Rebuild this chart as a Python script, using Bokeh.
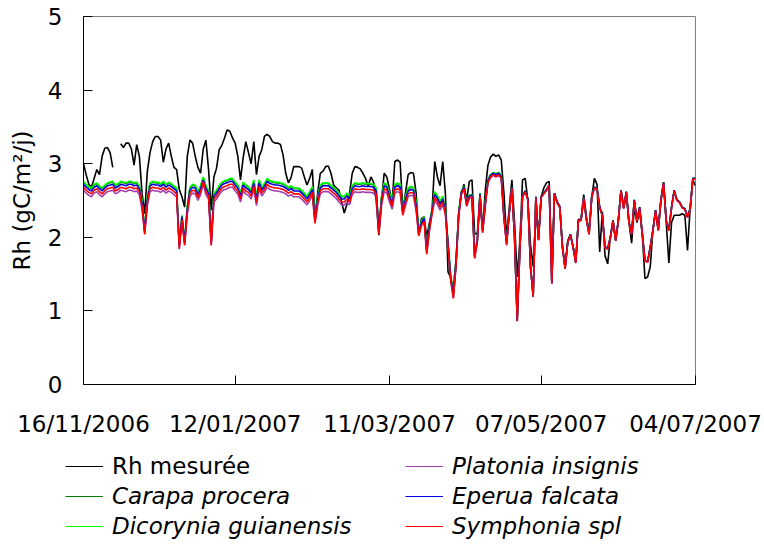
import calendar
import datetime as dt

from bokeh.plotting import figure
from bokeh.models import Range1d, FixedTicker, DatetimeTickFormatter, Legend, LegendItem
from bokeh.embed import file_html
from bokeh.resources import INLINE

NaN = float("nan")

# ---------------- data (daily values, 16/11/2006 -> 04/07/2007) ----------------
start_date = dt.datetime(2006, 11, 16)
n_days = 231
dates = [start_date + dt.timedelta(days=i) for i in range(n_days)]

tick_labels = ["16/11/2006", "12/01/2007", "11/03/2007", "07/05/2007", "04/07/2007"]
y_ticks = [0, 1, 2, 3, 4, 5]

rh_mesuree = [
    3.00, 2.85, 2.72, 2.68, 2.80, 2.92, 2.85, 3.10, 3.21, 3.22,
    3.15, 2.95, NaN, NaN, 3.27, 3.22, 3.28, 3.28, 3.20, 2.98,
    3.26, 3.10, 2.60, 2.32, 2.90, 3.15, 3.30, 3.37, 3.37, 3.32,
    3.02, 3.20, 3.28, 3.10, 2.95, 2.92, 2.65, 2.55, 2.41, 3.10,
    3.32, 3.28, 3.10, 2.95, 2.87, 3.20, 3.32, 2.92, 2.37, 2.82,
    2.94, 3.19, 3.25, 3.35, 3.46, 3.44, 3.35, 3.28, 3.10, 2.78,
    3.08, 3.30, 3.15, 3.00, 3.30, 2.85, 3.10, 3.19, 3.37, 3.40,
    3.37, 3.30, 3.28, 3.28, 3.26, 3.12, 2.87, 2.74, 2.81, 2.96,
    2.96, 2.96, 2.94, 2.82, 2.71, 2.80, 2.92, 2.26, 2.60, 2.87,
    2.90, 2.96, 2.97, 2.87, 2.71, 2.67, 2.64, 2.48, 2.33, 2.45,
    2.60, 2.87, 2.96, 2.95, 2.93, 2.87, 2.80, 2.69, 2.82, 2.75,
    2.50, 2.03, 2.50, 2.87, 2.82, 2.65, 2.46, 3.03, 3.05, 3.02,
    2.37, 2.60, 2.85, 2.88, 2.87, 2.60, 2.03, 2.25, 2.28, 2.00,
    2.20, 2.37, 3.03, 2.82, 2.70, 3.03, 2.60, 1.53, 1.45, 1.30,
    1.70, 2.30, 2.60, 2.72, 2.50, 2.76, 2.78, 2.05, 2.05, 2.48,
    2.10, 2.64, 2.98, 3.09, 3.13, 3.10, 3.12, 3.05, 2.60, 2.00,
    2.40, 2.78, 2.20, 1.46, 1.95, 2.78, 2.80, 2.50, 1.90, 1.60,
    2.33, 2.00, 2.55, 2.67, 2.74, 2.76, 1.60, 2.58, 2.48, 2.40,
    1.87, 1.62, 1.93, 2.03, 1.87, 1.68, 2.23, 2.25, 2.58, 2.28,
    2.07, 2.55, 2.80, 2.72, 1.80, 2.35, 1.75, 1.64, 2.00, 2.23,
    1.96, 2.23, 2.64, 2.40, 2.60, 2.20, 1.92, 2.40, 2.20, 2.35,
    2.05, 1.44, 1.46, 1.60, 2.10, 2.35, 2.10, 2.50, 2.72, 2.20,
    1.65, 2.20, 2.30, 2.30, 2.30, 2.32, 2.30, 1.82, 2.40, 2.78,
    2.70,
]

carapa_procera = [
    2.75, 2.71, 2.68, 2.66, 2.71, 2.73, 2.69, 2.66, 2.70, 2.73,
    2.74, 2.75, 2.70, 2.72, 2.75, 2.74, 2.73, 2.75, 2.75, 2.73,
    2.74, 2.69, 2.49, 2.09, 2.54, 2.73, 2.75, 2.74, 2.74, 2.72,
    2.75, 2.71, 2.74, 2.72, 2.69, 2.66, 1.89, 2.29, 1.94, 2.41,
    2.67, 2.71, 2.70, 2.61, 2.69, 2.81, 2.69, 2.63, 1.94, 2.59,
    2.63, 2.69, 2.74, 2.76, 2.77, 2.79, 2.79, 2.74, 2.70, 2.59,
    2.74, 2.70, 2.68, 2.63, 2.77, 2.54, 2.77, 2.67, 2.72, 2.79,
    2.76, 2.75, 2.74, 2.74, 2.73, 2.72, 2.70, 2.67, 2.69, 2.66,
    2.66, 2.66, 2.63, 2.59, 2.55, 2.61, 2.68, 2.24, 2.54, 2.70,
    2.73, 2.73, 2.73, 2.70, 2.67, 2.64, 2.59, 2.55, 2.55, 2.59,
    2.55, 2.69, 2.73, 2.72, 2.72, 2.73, 2.72, 2.72, 2.72, 2.71,
    2.66, 2.09, 2.54, 2.73, 2.71, 2.59, 2.49, 2.71, 2.73, 2.71,
    2.35, 2.54, 2.66, 2.68, 2.67, 2.47, 2.07, 2.21, 2.27, 1.82,
    2.14, 2.37, 2.61, 2.56, 2.48, 2.55, 2.37, 1.92, 1.46, 1.22,
    1.65, 2.33, 2.62, 2.69, 2.46, 2.57, 2.58, 1.75, 1.97, 2.60,
    2.10, 2.47, 2.78, 2.85, 2.88, 2.86, 2.88, 2.84, 2.30, 1.93,
    2.33, 2.68, 2.00, 0.87, 1.85, 2.56, 2.63, 2.52, 1.60, 1.20,
    2.55, 1.97, 2.55, 2.60, 2.65, 2.71, 1.38, 2.60, 2.48, 2.42,
    1.87, 1.58, 1.95, 2.04, 1.87, 1.66, 2.24, 2.24, 2.54, 2.25,
    2.05, 2.55, 2.68, 2.66, 2.41, 2.30, 1.87, 1.85, 2.00, 2.23,
    1.96, 2.23, 2.64, 2.40, 2.62, 2.21, 2.05, 2.51, 2.23, 2.41,
    2.05, 1.69, 1.67, 1.87, 2.10, 2.37, 2.10, 2.51, 2.75, 2.23,
    2.10, 2.41, 2.64, 2.51, 2.48, 2.41, 2.39, 2.28, 2.39, 2.80,
    2.80,
]

dicorynia_guianensis = [
    2.76, 2.72, 2.69, 2.67, 2.72, 2.74, 2.70, 2.67, 2.71, 2.74,
    2.75, 2.76, 2.71, 2.73, 2.76, 2.75, 2.74, 2.76, 2.76, 2.74,
    2.75, 2.70, 2.50, 2.10, 2.55, 2.74, 2.76, 2.75, 2.75, 2.73,
    2.76, 2.72, 2.75, 2.73, 2.70, 2.67, 1.90, 2.30, 1.95, 2.42,
    2.68, 2.72, 2.71, 2.62, 2.70, 2.82, 2.70, 2.64, 1.95, 2.60,
    2.64, 2.70, 2.75, 2.77, 2.78, 2.80, 2.80, 2.75, 2.71, 2.60,
    2.75, 2.71, 2.69, 2.64, 2.78, 2.55, 2.78, 2.68, 2.73, 2.80,
    2.77, 2.76, 2.75, 2.75, 2.74, 2.73, 2.71, 2.68, 2.70, 2.67,
    2.67, 2.67, 2.64, 2.60, 2.56, 2.62, 2.69, 2.25, 2.55, 2.71,
    2.74, 2.74, 2.74, 2.71, 2.68, 2.65, 2.60, 2.56, 2.56, 2.60,
    2.56, 2.70, 2.74, 2.73, 2.73, 2.74, 2.73, 2.73, 2.73, 2.72,
    2.67, 2.10, 2.55, 2.74, 2.72, 2.60, 2.50, 2.72, 2.74, 2.72,
    2.36, 2.55, 2.67, 2.69, 2.68, 2.48, 2.08, 2.22, 2.28, 1.83,
    2.15, 2.38, 2.62, 2.57, 2.49, 2.56, 2.38, 1.93, 1.47, 1.23,
    1.65, 2.33, 2.62, 2.69, 2.46, 2.57, 2.58, 1.75, 1.97, 2.60,
    2.10, 2.47, 2.78, 2.85, 2.88, 2.86, 2.88, 2.84, 2.30, 1.93,
    2.33, 2.68, 2.00, 0.87, 1.85, 2.56, 2.63, 2.52, 1.60, 1.20,
    2.55, 1.97, 2.55, 2.60, 2.65, 2.71, 1.38, 2.60, 2.48, 2.42,
    1.87, 1.58, 1.95, 2.04, 1.87, 1.66, 2.24, 2.24, 2.54, 2.25,
    2.05, 2.55, 2.68, 2.66, 2.41, 2.30, 1.87, 1.85, 2.00, 2.23,
    1.96, 2.23, 2.64, 2.40, 2.62, 2.21, 2.05, 2.51, 2.23, 2.41,
    2.05, 1.69, 1.67, 1.87, 2.10, 2.37, 2.10, 2.51, 2.75, 2.23,
    2.10, 2.41, 2.64, 2.51, 2.48, 2.41, 2.39, 2.28, 2.39, 2.80,
    2.80,
]

platonia_insignis = [
    2.64, 2.60, 2.57, 2.55, 2.60, 2.62, 2.58, 2.55, 2.59, 2.62,
    2.63, 2.64, 2.59, 2.61, 2.64, 2.63, 2.62, 2.64, 2.64, 2.62,
    2.63, 2.58, 2.38, 2.05, 2.43, 2.62, 2.64, 2.63, 2.63, 2.61,
    2.64, 2.60, 2.63, 2.61, 2.58, 2.55, 1.85, 2.25, 1.90, 2.30,
    2.56, 2.60, 2.59, 2.50, 2.58, 2.72, 2.58, 2.52, 1.90, 2.48,
    2.52, 2.58, 2.63, 2.65, 2.66, 2.68, 2.68, 2.63, 2.59, 2.48,
    2.63, 2.59, 2.57, 2.52, 2.66, 2.43, 2.66, 2.56, 2.61, 2.68,
    2.65, 2.64, 2.63, 2.63, 2.62, 2.61, 2.59, 2.56, 2.58, 2.55,
    2.55, 2.55, 2.52, 2.48, 2.44, 2.50, 2.57, 2.20, 2.43, 2.59,
    2.62, 2.62, 2.62, 2.59, 2.56, 2.53, 2.48, 2.44, 2.44, 2.48,
    2.44, 2.58, 2.62, 2.61, 2.61, 2.62, 2.61, 2.61, 2.61, 2.60,
    2.55, 2.05, 2.43, 2.62, 2.60, 2.48, 2.38, 2.60, 2.62, 2.60,
    2.31, 2.43, 2.55, 2.57, 2.56, 2.36, 2.03, 2.17, 2.23, 1.78,
    2.10, 2.33, 2.50, 2.45, 2.37, 2.44, 2.33, 1.88, 1.42, 1.18,
    1.61, 2.29, 2.58, 2.65, 2.42, 2.53, 2.54, 1.71, 1.93, 2.56,
    2.06, 2.43, 2.74, 2.81, 2.84, 2.82, 2.84, 2.80, 2.26, 1.89,
    2.32, 2.67, 1.99, 0.86, 1.84, 2.55, 2.62, 2.51, 1.59, 1.19,
    2.54, 1.96, 2.54, 2.59, 2.64, 2.70, 1.37, 2.59, 2.47, 2.41,
    1.86, 1.57, 1.94, 2.03, 1.86, 1.65, 2.23, 2.23, 2.53, 2.24,
    2.04, 2.54, 2.67, 2.65, 2.40, 2.29, 1.86, 1.84, 1.99, 2.22,
    1.95, 2.22, 2.63, 2.39, 2.61, 2.20, 2.04, 2.50, 2.22, 2.40,
    2.04, 1.68, 1.66, 1.86, 2.09, 2.36, 2.09, 2.50, 2.74, 2.22,
    2.09, 2.40, 2.63, 2.50, 2.47, 2.40, 2.38, 2.27, 2.38, 2.79,
    2.79,
]

eperua_falcata = [
    2.72, 2.68, 2.65, 2.63, 2.68, 2.70, 2.66, 2.63, 2.67, 2.70,
    2.71, 2.72, 2.67, 2.69, 2.72, 2.71, 2.70, 2.72, 2.72, 2.70,
    2.71, 2.66, 2.46, 2.08, 2.51, 2.70, 2.72, 2.71, 2.71, 2.69,
    2.72, 2.68, 2.71, 2.69, 2.66, 2.63, 1.88, 2.28, 1.93, 2.38,
    2.64, 2.68, 2.67, 2.58, 2.66, 2.78, 2.66, 2.60, 1.93, 2.56,
    2.60, 2.66, 2.71, 2.73, 2.74, 2.76, 2.76, 2.71, 2.67, 2.56,
    2.71, 2.67, 2.65, 2.60, 2.74, 2.51, 2.74, 2.64, 2.69, 2.76,
    2.73, 2.72, 2.71, 2.71, 2.70, 2.69, 2.67, 2.64, 2.66, 2.63,
    2.63, 2.63, 2.60, 2.56, 2.52, 2.58, 2.65, 2.23, 2.51, 2.67,
    2.70, 2.70, 2.70, 2.67, 2.64, 2.61, 2.56, 2.52, 2.52, 2.56,
    2.52, 2.66, 2.70, 2.69, 2.69, 2.70, 2.69, 2.69, 2.69, 2.68,
    2.63, 2.08, 2.51, 2.70, 2.68, 2.56, 2.46, 2.68, 2.70, 2.68,
    2.34, 2.51, 2.63, 2.65, 2.64, 2.44, 2.06, 2.20, 2.26, 1.81,
    2.13, 2.36, 2.58, 2.53, 2.45, 2.52, 2.36, 1.91, 1.45, 1.21,
    1.64, 2.32, 2.61, 2.68, 2.45, 2.56, 2.57, 1.74, 1.96, 2.59,
    2.09, 2.46, 2.77, 2.84, 2.87, 2.85, 2.87, 2.83, 2.29, 1.92,
    2.33, 2.68, 2.00, 0.87, 1.85, 2.56, 2.63, 2.52, 1.60, 1.20,
    2.55, 1.97, 2.55, 2.60, 2.65, 2.71, 1.38, 2.60, 2.48, 2.42,
    1.87, 1.58, 1.95, 2.04, 1.87, 1.66, 2.24, 2.24, 2.54, 2.25,
    2.05, 2.55, 2.68, 2.66, 2.41, 2.30, 1.87, 1.85, 2.00, 2.23,
    1.96, 2.23, 2.64, 2.40, 2.62, 2.21, 2.05, 2.51, 2.23, 2.41,
    2.05, 1.69, 1.67, 1.87, 2.10, 2.37, 2.10, 2.51, 2.75, 2.23,
    2.10, 2.41, 2.64, 2.51, 2.48, 2.41, 2.39, 2.28, 2.39, 2.80,
    2.80,
]

symphonia_spl = [
    2.68, 2.64, 2.61, 2.59, 2.64, 2.66, 2.62, 2.59, 2.63, 2.66,
    2.67, 2.68, 2.63, 2.65, 2.68, 2.67, 2.66, 2.68, 2.68, 2.66,
    2.67, 2.62, 2.42, 2.04, 2.47, 2.66, 2.68, 2.67, 2.67, 2.65,
    2.68, 2.64, 2.67, 2.65, 2.62, 2.59, 1.84, 2.24, 1.89, 2.34,
    2.60, 2.64, 2.63, 2.54, 2.62, 2.76, 2.62, 2.56, 1.89, 2.52,
    2.56, 2.62, 2.67, 2.69, 2.70, 2.72, 2.72, 2.67, 2.63, 2.52,
    2.67, 2.63, 2.61, 2.56, 2.70, 2.47, 2.70, 2.60, 2.65, 2.72,
    2.69, 2.68, 2.67, 2.67, 2.66, 2.65, 2.63, 2.60, 2.62, 2.59,
    2.59, 2.59, 2.56, 2.52, 2.48, 2.54, 2.61, 2.19, 2.47, 2.63,
    2.66, 2.66, 2.66, 2.63, 2.60, 2.57, 2.52, 2.48, 2.48, 2.52,
    2.48, 2.62, 2.66, 2.65, 2.65, 2.66, 2.65, 2.65, 2.65, 2.64,
    2.59, 2.04, 2.47, 2.66, 2.64, 2.52, 2.42, 2.64, 2.66, 2.64,
    2.30, 2.47, 2.59, 2.61, 2.60, 2.40, 2.02, 2.16, 2.22, 1.77,
    2.09, 2.32, 2.54, 2.49, 2.41, 2.48, 2.32, 1.87, 1.41, 1.17,
    1.62, 2.30, 2.59, 2.66, 2.43, 2.54, 2.55, 1.72, 1.94, 2.57,
    2.07, 2.44, 2.75, 2.82, 2.85, 2.83, 2.85, 2.81, 2.27, 1.90,
    2.32, 2.67, 1.99, 0.86, 1.84, 2.55, 2.62, 2.51, 1.59, 1.19,
    2.54, 1.96, 2.54, 2.59, 2.64, 2.70, 1.37, 2.59, 2.47, 2.41,
    1.86, 1.57, 1.94, 2.03, 1.86, 1.65, 2.23, 2.23, 2.53, 2.24,
    2.04, 2.54, 2.67, 2.65, 2.40, 2.29, 1.86, 1.84, 1.99, 2.22,
    1.95, 2.22, 2.63, 2.39, 2.61, 2.20, 2.04, 2.50, 2.22, 2.40,
    2.04, 1.68, 1.66, 1.86, 2.09, 2.36, 2.09, 2.50, 2.74, 2.22,
    2.09, 2.40, 2.63, 2.50, 2.47, 2.40, 2.38, 2.27, 2.38, 2.79,
    2.79,
]

series = [
    ("Rh mesurée", rh_mesuree, "#000000"),
    ("Carapa procera", carapa_procera, "#008000"),
    ("Dicorynia guianensis", dicorynia_guianensis, "#00FF00"),
    ("Platonia insignis", platonia_insignis, "#A040B0"),
    ("Eperua falcata", eperua_falcata, "#0000E0"),
    ("Symphonia spl", symphonia_spl, "#FF0000"),
]

# ---------------- main figure ----------------
FONT = "DejaVu Sans"
tick_dates = [dt.datetime.strptime(s, "%d/%m/%Y") for s in tick_labels]
tick_ms = [calendar.timegm(d.timetuple()) * 1000.0 for d in tick_dates]

p = figure(
    width=764, height=448,
    x_axis_type="datetime",
    x_range=Range1d(tick_dates[0], tick_dates[-1]),
    y_range=Range1d(0, 5),
    output_backend="svg", toolbar_location=None,
    min_border_left=83, min_border_right=69, min_border_top=16, min_border_bottom=64,
)
p.background_fill_color = "white"
p.border_fill_color = "white"
p.outline_line_color = "#808080"
p.xgrid.grid_line_color = None
p.ygrid.grid_line_color = None

for name, vals, color in series:
    p.line(dates, vals, line_color=color, line_width=1.6)

for ax in (p.xaxis[0], p.yaxis[0]):
    ax.axis_line_color = "black"
    ax.axis_line_width = 1
    ax.major_tick_in = 9
    ax.major_tick_out = 0
    ax.minor_tick_line_color = None
    ax.major_tick_line_color = "black"
    ax.major_label_text_font = FONT
    ax.major_label_text_font_size = "23px"
    ax.major_label_text_color = "black"

fmt = "%d/%m/%Y"
p.xaxis.ticker = FixedTicker(ticks=tick_ms)
p.xaxis.formatter = DatetimeTickFormatter(
    milliseconds=fmt, seconds=fmt, minsec=fmt, minutes=fmt, hourmin=fmt,
    hours=fmt, days=fmt, months=fmt, years=fmt)
p.xaxis.major_label_standoff = 26

p.yaxis.ticker = FixedTicker(ticks=y_ticks)
p.yaxis.major_label_standoff = 21
p.yaxis.axis_label = "Rh (gC/m²/j)"
p.yaxis.axis_label_text_font = FONT
p.yaxis.axis_label_text_font_size = "23px"
p.yaxis.axis_label_text_font_style = "normal"
p.yaxis.axis_label_text_color = "black"
p.yaxis.axis_label_standoff = 10

# ---------------- legend strip (separate root: two columns x three rows) ----------------
leg = figure(
    width=764, height=98, x_range=Range1d(0, 1), y_range=Range1d(0, 1),
    output_backend="svg", toolbar_location=None,
    x_axis_location=None, y_axis_location=None,
    min_border_left=0, min_border_right=0, min_border_top=0, min_border_bottom=0,
)
leg.outline_line_color = None
leg.background_fill_color = "white"
leg.border_fill_color = "white"
leg.xgrid.grid_line_color = None
leg.ygrid.grid_line_color = None
# same series, drawn out of this strip's view: they only provide the legend swatches
leg_renderers = {}
for name, vals, color in series:
    leg_renderers[name] = leg.line(dates, vals, line_color=color, line_width=1.2)


def add_legend(names, loc, italic):
    lg = Legend(
        items=[LegendItem(label=n, renderers=[leg_renderers[n]]) for n in names],
        location=loc, orientation="vertical",
        label_text_font=FONT, label_text_font_size="23px",
        label_text_font_style="italic" if italic else "normal",
        label_text_color="black",
        glyph_width=38, glyph_height=30, label_height=30, label_standoff=9,
        spacing=0, padding=0, margin=0,
        border_line_alpha=0, background_fill_alpha=0,
    )
    leg.add_layout(lg, "center")


add_legend(["Rh mesurée"], (65, 65), False)
add_legend(["Carapa procera", "Dicorynia guianensis"], (65, 5), True)
add_legend(["Platonia insignis", "Eperua falcata", "Symphonia spl"], (405, 5), True)

open("out.html", "w").write(file_html([p, leg], INLINE))
